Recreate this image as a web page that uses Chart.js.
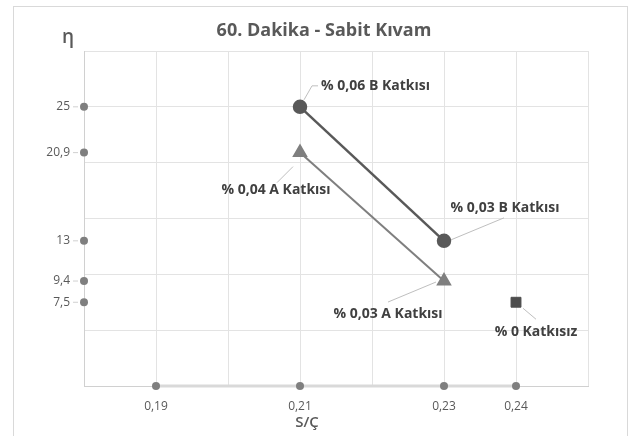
<!DOCTYPE html>
<html>
<head>
<meta charset="utf-8">
<script src="https://cdn.jsdelivr.net/npm/chart.js@4.4.0/dist/chart.umd.min.js"></script>
<style>
  html, body { margin: 0; padding: 0; background: #fff; }
  canvas { display: block; }
</style>
</head>
<body>
<canvas id="chart" width="635" height="436"></canvas>
<script>
// values
const xTicks = [0.19, 0.21, 0.23, 0.24];
const xTickText = ['0,19', '0,21', '0,23', '0,24'];
const yTicks = [25, 20.9, 13, 9.4, 7.5];
const yTickText = ['25', '20,9', '13', '9,4', '7,5'];

const bX = [0.21, 0.23];
const bY = [25, 13];
const bText = ['% 0,06 B Katkısı', '% 0,03 B Katkısı'];

const aX = [0.21, 0.23];
const aY = [20.9, 9.4];
const aText = ['% 0,04 A Katkısı', '% 0,03 A Katkısı'];

const zeroX = [0.24];
const zeroY = [7.5];
const zeroText = ['% 0 Katkısız'];

const toPoints = (xs, ys) => xs.map((x, i) => ({ x: x, y: ys[i] }));

const FONT = '"Open Sans", "Noto Sans", sans-serif';

// draws point labels with optional leader lines
const pointLabels = {
    id: 'pointLabels',
    afterDatasetsDraw(chart) {
        const ctx = chart.ctx;
        chart.data.datasets.forEach((ds, di) => {
            const pl = ds.pointLabels;
            if (!pl) return;
            const meta = chart.getDatasetMeta(di);
            meta.data.forEach((el, i) => {
                const px = el.x, py = el.y;
                const lead = pl.leaders ? pl.leaders[i] : pl.leader;
                if (lead) {
                    ctx.save();
                    ctx.strokeStyle = pl.leaderColor || '#bfbfbf';
                    ctx.lineWidth = 1;
                    ctx.beginPath();
                    lead.forEach((p, k) => {
                        if (k === 0) ctx.moveTo(px + p[0], py + p[1]);
                        else ctx.lineTo(px + p[0], py + p[1]);
                    });
                    ctx.stroke();
                    ctx.restore();
                }
                const off = pl.offsets ? pl.offsets[i] : pl.offset;
                ctx.save();
                ctx.fillStyle = pl.color;
                ctx.font = pl.font;
                ctx.textAlign = pl.aligns ? pl.aligns[i] : pl.align;
                ctx.textBaseline = 'middle';
                ctx.fillText(pl.texts[i], px + off[0], py + off[1]);
                ctx.restore();
            });
        });
    }
};

const frame = {
    id: 'frame',
    beforeDraw(chart) {
        const ctx = chart.ctx;
        ctx.save();
        ctx.fillStyle = '#fff';
        ctx.fillRect(0, 0, chart.width, chart.height);
        ctx.strokeStyle = '#d9d9d9';
        ctx.lineWidth = 1;
        ctx.strokeRect(13.5, 6.5, 614, 440);
        ctx.restore();
    },
    afterDraw(chart) {
        const ctx = chart.ctx;
        ctx.save();
        ctx.fillStyle = '#595959';
        ctx.textAlign = 'center';
        ctx.textBaseline = 'middle';
        ctx.font = 'bold 18px ' + FONT;
        ctx.fillText('60. Dakika - Sabit Kıvam', 324, 31);
        ctx.font = '600 19px ' + FONT;
        ctx.fillText('η', 68, 38);
        ctx.font = '600 15px ' + FONT;
        ctx.fillText('S/Ç', 307, 423);
        ctx.restore();
    }
};

new Chart(document.getElementById('chart'), {
    type: 'scatter',
    data: {
        datasets: [
            {
                data: toPoints(xTicks, xTicks.map(() => 0)),
                showLine: true,
                borderColor: '#d9d9d9',
                borderWidth: 3,
                pointRadius: 4,
                pointBackgroundColor: '#7f7f7f',
                pointBorderWidth: 0,
                clip: false,
                order: 5,
                pointLabels: {
                    texts: xTickText,
                    offset: [0, 21],
                    align: 'center',
                    color: '#595959',
                    font: '12px ' + FONT
                }
            },
            {
                data: toPoints(yTicks.map(() => 0.18), yTicks),
                showLine: false,
                pointRadius: 4,
                pointBackgroundColor: '#7f7f7f',
                pointBorderWidth: 0,
                clip: false,
                order: 4,
                pointLabels: {
                    texts: yTickText,
                    offset: [-14, 0],
                    leader: [[-11, 0], [-6, 0]],
                    leaderColor: '#d0d0d0',
                    align: 'right',
                    color: '#595959',
                    font: '12px ' + FONT
                }
            },
            {
                data: toPoints(aX, aY),
                showLine: true,
                borderColor: '#7f7f7f',
                borderWidth: 2,
                pointStyle: 'triangle',
                pointRadius: 7,
                pointBackgroundColor: '#7f7f7f',
                pointBorderColor: '#7f7f7f',
                clip: false,
                order: 2,
                pointLabels: {
                    texts: aText,
                    offsets: [[-24, 37], [-56, 33]],
                    leaders: [[[-7, 14], [-23, 30]], [[-8, 1], [-56, 21]]],
                    align: 'center',
                    color: '#404040',
                    font: 'bold 14px ' + FONT
                }
            },
            {
                data: toPoints(bX, bY),
                showLine: true,
                borderColor: '#595959',
                borderWidth: 2.5,
                pointStyle: 'circle',
                pointRadius: 6,
                pointBackgroundColor: '#595959',
                pointBorderColor: '#595959',
                clip: false,
                order: 1,
                pointLabels: {
                    texts: bText,
                    offsets: [[21, -21], [61, -33]],
                    aligns: ['left', 'center'],
                    leaders: [[[4, -7], [12, -21], [18, -21]], [[7, -1], [60, -23]]],
                    color: '#404040',
                    font: 'bold 14px ' + FONT
                }
            },
            {
                data: toPoints(zeroX, zeroY),
                showLine: false,
                pointStyle: 'rect',
                pointRadius: 7,
                pointBackgroundColor: '#4d4d4d',
                pointBorderColor: '#4d4d4d',
                clip: false,
                order: 0,
                pointLabels: {
                    texts: zeroText,
                    offset: [20, 30],
                    leader: [[7, 6], [20, 17]],
                    align: 'center',
                    color: '#404040',
                    font: 'bold 14px ' + FONT
                }
            }
        ]
    },
    options: {
        responsive: false,
        animation: false,
        devicePixelRatio: 1,
        layout: { padding: { left: 84, right: 47, top: 51, bottom: 50 } },
        plugins: {
            legend: { display: false },
            tooltip: { enabled: false }
        },
        scales: {
            x: {
                type: 'linear',
                min: 0.18,
                max: 0.25,
                ticks: { display: false, stepSize: 0.01 },
                grid: { color: '#e3e3e3', drawTicks: false },
                border: { color: '#d0d0d0' }
            },
            y: {
                min: 0,
                max: 30,
                ticks: { display: false, stepSize: 5 },
                grid: { color: '#e3e3e3', drawTicks: false },
                border: { color: '#d0d0d0' }
            }
        }
    },
    plugins: [frame, pointLabels]
});
</script>
</body>
</html>
